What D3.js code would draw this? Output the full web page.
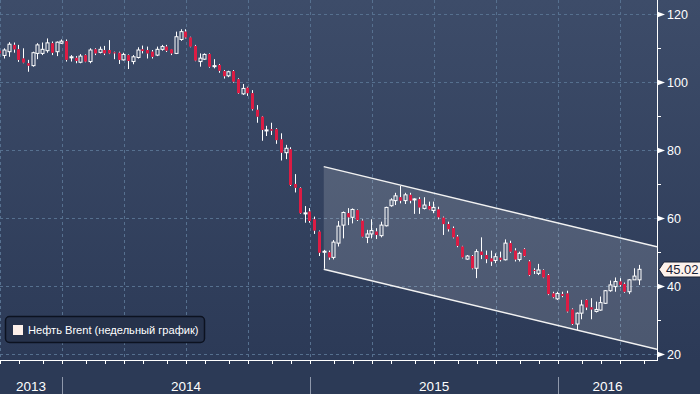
<!DOCTYPE html>
<html>
<head>
<meta charset="utf-8">
<script src="https://cdn.jsdelivr.net/npm/d3@7"></script>
<style>
  html, body { margin: 0; padding: 0; background: #2c3a56; }
  svg { display: block; }
</style>
</head>
<body>
<div id="chart"></div>
<script>
// weekly Brent bars, first bar = week ending 27 Sep 2013
var firstWeek = new Date(2013, 8, 27);

var opens = [109.3,107.9,109.0,111.0,109.7,107.0,105.6,104.9,108.5,108.5,
  109.3,111.5,109.0,111.5,112.1,107.2,107.2,105.9,108.0,106.1,
  109.7,108.8,109.5,109.5,108.8,108.7,106.6,108.0,106.1,107.3,
  109.7,109.5,109.0,108.0,109.7,110.5,109.7,108.5,112.6,114.9,
  113.2,110.7,106.1,106.8,108.3,104.6,105.1,103.3,101.9,103.3,
  100.9,96.6,98.4,96.8,91.9,89.9,85.7,86.2,86.2,83.2,
  79.3,80.3,70.1,68.9,61.3,62.0,59.7,56.1,50.0,50.0,
  48.5,52.7,58.0,61.5,60.3,62.4,59.3,54.4,55.4,56.1,
  54.9,57.8,63.7,65.2,66.2,65.2,66.9,65.5,65.6,62.9,
  63.6,62.3,62.6,60.2,58.3,57.1,54.6,51.7,48.0,48.9,
  45.3,50.2,49.2,48.2,47.6,48.4,47.8,52.7,50.5,47.9,
  50.9,47.3,44.8,43.8,44.8,43.3,37.9,36.3,37.7,37.9,
  33.2,28.9,32.1,36.0,33.8,32.6,33.0,35.0,38.7,39.9,
  41.4,40.7,38.4,41.9,41.9];

var highs = [110.0,110.0,111.8,111.7,111.0,110.0,106.6,109.0,111.5,111.7,
  112.9,112.0,112.0,112.6,112.6,108.0,107.7,108.3,108.2,110.0,
  110.0,110.5,110.7,112.4,109.0,109.0,108.7,108.2,108.0,110.3,
  110.8,110.5,109.5,110.5,111.0,111.0,109.8,114.9,115.6,115.6,
  113.4,111.0,108.5,108.5,108.5,106.8,105.4,103.6,103.4,103.6,
  101.2,99.5,98.7,97.7,93.3,90.1,87.2,88.1,86.5,85.0,
  81.6,80.9,73.0,69.1,63.6,63.0,60.5,56.4,50.7,50.5,
  53.6,59.2,62.0,63.0,62.9,62.6,59.7,56.6,59.7,57.1,
  59.0,63.4,65.9,67.5,69.5,67.5,67.5,65.9,66.2,66.2,
  64.9,64.9,63.4,60.5,59.0,57.6,55.1,51.9,49.2,49.2,
  50.9,54.4,50.5,50.5,49.7,50.2,53.8,53.4,51.2,50.2,
  51.2,47.7,45.3,46.6,45.0,43.6,38.4,38.4,38.4,38.7,
  33.5,32.3,36.0,36.2,36.5,35.5,37.0,38.9,41.7,42.6,
  42.4,41.1,42.1,45.3,46.3];

var lows = [107.5,107.0,107.5,108.7,106.0,105.6,103.1,104.6,106.8,108.0,
  108.7,108.0,107.7,111.3,106.1,106.1,105.6,105.6,105.9,105.6,
  108.0,108.5,108.0,108.3,106.8,105.4,106.4,103.9,105.3,107.0,
  108.5,107.0,107.0,107.7,109.3,108.9,108.0,108.3,112.2,112.9,
  110.3,106.2,104.6,106.6,104.3,104.1,102.8,101.1,101.5,99.9,
  96.6,96.3,96.0,91.7,88.1,82.8,84.2,84.5,81.9,77.0,
  77.4,69.5,67.6,61.3,58.7,58.7,55.4,48.9,45.2,47.8,
  47.9,51.7,54.1,58.0,58.5,59.2,54.4,52.7,54.1,53.9,
  54.4,57.6,63.4,63.9,64.4,64.2,64.4,61.3,61.3,62.6,
  62.4,61.5,59.7,55.1,56.1,54.1,51.5,48.2,47.8,45.0,
  42.4,48.0,46.8,46.0,46.8,47.3,47.6,49.9,47.3,47.3,
  48.7,43.0,43.6,43.3,42.4,37.4,36.5,36.0,36.8,32.3,
  28.6,27.2,30.3,33.0,30.3,32.3,32.8,34.8,38.4,38.4,
  39.9,38.1,37.7,41.9,40.4];

var closes = [108.5,109.5,111.2,109.7,106.6,105.8,104.9,108.7,111.0,109.7,
  111.6,108.7,111.8,112.1,106.6,107.5,106.3,107.7,106.1,109.5,
  108.5,109.7,108.5,108.5,108.6,106.6,108.2,106.3,107.5,109.5,
  109.2,108.5,107.5,109.7,110.5,109.3,108.5,113.4,114.9,113.2,
  110.5,106.4,107.1,108.2,104.6,104.9,103.4,101.8,103.1,100.2,
  96.8,98.2,96.8,92.1,89.9,86.0,86.0,85.8,83.0,79.3,
  80.6,69.8,69.0,61.5,61.6,59.2,56.4,49.9,50.3,48.5,
  53.0,57.7,61.7,60.3,62.6,59.5,54.6,55.4,56.4,55.1,
  58.0,63.2,65.4,66.6,65.2,66.9,65.2,65.7,63.2,63.9,
  62.6,63.2,60.3,58.3,56.8,54.4,51.9,48.5,48.9,45.3,
  50.2,49.2,48.0,47.3,48.7,47.8,52.7,50.2,47.9,49.7,
  48.9,43.3,44.5,44.8,42.6,37.7,36.8,37.9,37.2,32.6,
  28.9,32.1,34.5,33.8,33.2,33.2,35.2,38.7,40.4,41.4,
  40.4,38.4,41.9,43.0,45.0];

var yTicks = [20, 40, 60, 80, 100, 120];
var yMinor = [30, 50, 70, 90, 110];
var lastPrice = 45.02;

// downward channel drawn over 2015-2016
var channelDates = [new Date(2015, 0, 16), new Date(2016, 4, 19)];
var channelTop = [75.2, 51.6];
var channelBottom = [45.0, 21.5];

var legendLabel = "Нефть Brent (недельный график)";

var w = 700, h = 394;
var plotW = 657, plotH = 360;

var bars = opens.map(function(o, i) {
    return {
        date: d3.timeWeek.offset(firstWeek, i),
        open: o, high: highs[i], low: lows[i], close: closes[i]
    };
});

var x = d3.scaleTime()
    .domain([new Date(2013, 8, 28), new Date(2016, 4, 19)])
    .range([0, plotW]);

var y = d3.scaleLinear()
    .domain([20, 120])
    .range([354.3, 14.3]);

var svg = d3.select("#chart").append("svg")
    .attr("width", w)
    .attr("height", h)
    .style("font-family", "'Liberation Sans', Arial, sans-serif");

var defs = svg.append("defs");
var grad = defs.append("linearGradient")
    .attr("id", "bg")
    .attr("gradientUnits", "userSpaceOnUse")
    .attr("x1", 0).attr("y1", 0).attr("x2", 0).attr("y2", plotH);
grad.append("stop").attr("offset", "0%").attr("stop-color", "#3d4c69");
grad.append("stop").attr("offset", "100%").attr("stop-color", "#2c3a57");

defs.append("clipPath").attr("id", "plotclip")
    .append("rect").attr("x", 0).attr("y", 0).attr("width", plotW).attr("height", plotH);

svg.append("rect").attr("width", w).attr("height", h).attr("fill", "#2c3a56");
svg.append("rect").attr("width", w).attr("height", plotH).attr("fill", "url(#bg)");

// month ticks snap to the start of the weekly bar that holds the 1st friday
var months = d3.timeMonth.range(new Date(2013, 9, 1), new Date(2016, 5, 1)).map(function(m) {
    return { month: m, pos: d3.timeDay.offset(d3.timeFriday.ceil(m), -6) };
}).filter(function(d) { return x(d.pos) >= -0.5 && x(d.pos) <= plotW; });

var quarters = months.filter(function(d) { return d.month.getMonth() % 3 === 0; });
var yearStarts = months.filter(function(d) { return d.month.getMonth() === 0; });

// grid
var grid = svg.append("g").attr("stroke", "#56708f").attr("stroke-dasharray", "3,3").attr("stroke-width", 1);
grid.selectAll(".hg")
    .data(yTicks)
    .enter()
    .append("line")
        .attr("x1", 0).attr("x2", plotW)
        .attr("y1", function(d) { return Math.round(y(d)) + 0.5; })
        .attr("y2", function(d) { return Math.round(y(d)) + 0.5; });
grid.selectAll(".vg")
    .data(quarters)
    .enter()
    .append("line")
        .attr("x1", function(d) { return Math.round(x(d.pos)) + 0.5; })
        .attr("x2", function(d) { return Math.round(x(d.pos)) + 0.5; })
        .attr("y1", 0).attr("y2", plotH);

// channel
var chan = svg.append("g").attr("clip-path", "url(#plotclip)");
var poly = [
    [x(channelDates[0]), y(channelTop[0])],
    [x(channelDates[1]), y(channelTop[1])],
    [x(channelDates[1]), y(channelBottom[1])],
    [x(channelDates[0]), y(channelBottom[0])]
];
chan.append("path")
    .attr("d", "M" + poly.join("L") + "Z")
    .attr("fill", "#ffffff")
    .attr("fill-opacity", 0.15);
chan.append("line")
    .attr("x1", poly[0][0]).attr("y1", poly[0][1])
    .attr("x2", poly[1][0]).attr("y2", poly[1][1])
    .attr("stroke", "#f2f2f2").attr("stroke-width", 1.5);
chan.append("line")
    .attr("x1", poly[3][0]).attr("y1", poly[3][1])
    .attr("x2", poly[2][0]).attr("y2", poly[2][1])
    .attr("stroke", "#f2f2f2").attr("stroke-width", 1.5);

// candles: wick above and below the body, hollow body when close >= open
var candles = svg.append("g").attr("clip-path", "url(#plotclip)")
    .selectAll("g")
    .data(bars)
    .enter()
    .append("g");

function cx(d) { return Math.round(x(d.date)) + 0.5; }

candles.append("line")
    .attr("x1", cx).attr("x2", cx)
    .attr("y1", function(d) { return y(d.high); })
    .attr("y2", function(d) { return y(Math.max(d.open, d.close)); })
    .attr("stroke", "#ffffff");
candles.append("line")
    .attr("x1", cx).attr("x2", cx)
    .attr("y1", function(d) { return y(Math.min(d.open, d.close)); })
    .attr("y2", function(d) { return y(d.low); })
    .attr("stroke", "#ffffff");

candles.append("rect")
    .attr("x", function(d) { return Math.round(x(d.date)) - 1; })
    .attr("y", function(d) { return y(Math.max(d.open, d.close)); })
    .attr("width", 3)
    .attr("height", function(d) { return Math.max(1, Math.abs(y(d.open) - y(d.close))); })
    .attr("fill", function(d) { return d.close >= d.open ? "none" : "#dc1c44"; })
    .attr("stroke", function(d) { return d.close >= d.open ? "#ffffff" : "none"; })
    .attr("stroke-width", 1);

// bottom axis
svg.append("line")
    .attr("x1", 0).attr("x2", plotW)
    .attr("y1", plotH + 0.5).attr("y2", plotH + 0.5)
    .attr("stroke", "#ffffff");
svg.append("g").selectAll("line")
    .data(months)
    .enter()
    .append("line")
        .attr("x1", function(d) { return Math.round(x(d.pos)) + 0.5; })
        .attr("x2", function(d) { return Math.round(x(d.pos)) + 0.5; })
        .attr("y1", plotH).attr("y2", plotH + 4)
        .attr("stroke", "#ffffff");

svg.append("g").selectAll("line")
    .data(yearStarts)
    .enter()
    .append("line")
        .attr("x1", function(d) { return Math.round(x(d.pos)) + 0.5; })
        .attr("x2", function(d) { return Math.round(x(d.pos)) + 0.5; })
        .attr("y1", 377).attr("y2", h)
        .attr("stroke", "#8f98ab");

var yearEdges = [0].concat(yearStarts.map(function(d) { return x(d.pos); })).concat([plotW]);
svg.append("g").selectAll("text")
    .data(yearEdges.slice(0, -1))
    .enter()
    .append("text")
        .attr("x", function(d, i) { return (d + yearEdges[i + 1]) / 2; })
        .attr("y", 391)
        .attr("text-anchor", "middle")
        .attr("fill", "#ffffff")
        .attr("font-size", "13.5px")
        .text(function(d, i) { return d3.timeFormat("%Y")(x.invert(yearEdges[i + 1] - 1)); });

// right axis
svg.append("line")
    .attr("x1", plotW + 0.5).attr("x2", plotW + 0.5)
    .attr("y1", 0).attr("y2", plotH + 1)
    .attr("stroke", "#ffffff");
svg.append("g").selectAll("line")
    .data(yMinor)
    .enter()
    .append("line")
        .attr("x1", plotW).attr("x2", plotW + 4)
        .attr("y1", function(d) { return Math.round(y(d)) + 0.5; })
        .attr("y2", function(d) { return Math.round(y(d)) + 0.5; })
        .attr("stroke", "#ffffff");
var yt = svg.append("g").selectAll("g")
    .data(yTicks)
    .enter()
    .append("g")
        .attr("transform", function(d) { return "translate(" + plotW + "," + (Math.round(y(d)) + 0.5) + ")"; });
yt.append("path")
    .attr("d", "M0,-3L8,0L0,3Z")
    .attr("fill", "#ffffff");
yt.append("text")
    .attr("x", 10)
    .attr("dy", "0.36em")
    .attr("fill", "#ffffff")
    .attr("font-size", "12.5px")
    .text(function(d) { return d; });

// last price flag
var ly = Math.round(y(lastPrice)) + 0.5;
var flag = svg.append("g").attr("transform", "translate(0," + ly + ")");
flag.append("path")
    .attr("d", "M659,0L664,-7.5L702,-7.5L702,7.5L664,7.5Z")
    .attr("fill", "#fdf2ec")
    .attr("stroke", "#1a2236");
flag.append("text")
    .attr("x", 666)
    .attr("dy", "0.36em")
    .attr("fill", "#1a2236")
    .attr("font-size", "13px")
    .text(d3.format(".2f")(lastPrice));

// legend
var leg = svg.append("g");
leg.append("rect")
    .attr("x", 5.5).attr("y", 316.5)
    .attr("width", 199).attr("height", 26)
    .attr("rx", 4)
    .attr("fill", "#26324b")
    .attr("stroke", "#0c1220")
    .attr("stroke-width", 1.5);
leg.append("rect")
    .attr("x", 13).attr("y", 325)
    .attr("width", 10).attr("height", 10)
    .attr("fill", "#fdf0ea");
leg.append("text")
    .attr("x", 28).attr("y", 334)
    .attr("fill", "#ffffff")
    .attr("font-size", "11.1px")
    .text(legendLabel);
</script>
</body>
</html>
